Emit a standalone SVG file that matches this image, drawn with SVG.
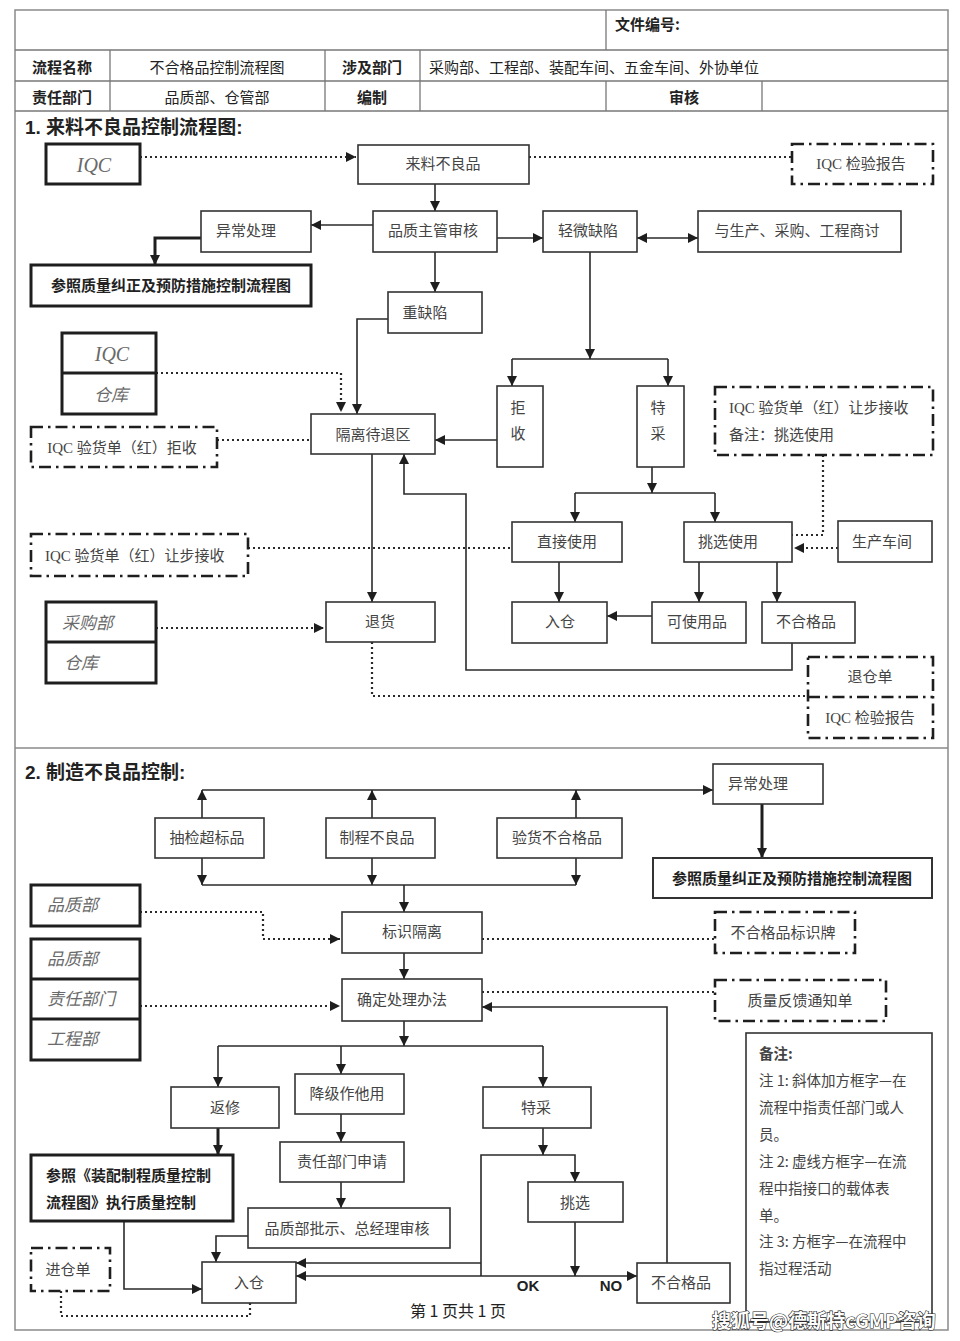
<svg xmlns="http://www.w3.org/2000/svg" width="960" height="1341" viewBox="0 0 960 1341">
<style>
.bg{fill:#fff}
.frame{fill:none;stroke:#8a8a8a;stroke-width:1.5}
.tl{stroke:#777;stroke-width:1.3}
.n rect{fill:#fff;stroke:#333;stroke-width:1.6}
.k rect,.k line{fill:#fff;stroke:#1e1e1e;stroke-width:3}
.m rect{fill:#fff;stroke:#333;stroke-width:2}
.d rect,.d line{fill:none;stroke:#1e1e1e;stroke-width:2.6;stroke-dasharray:12 5 2.5 5}
.t{font-family:"Liberation Serif","Noto Sans CJK SC",sans-serif;font-size:15px;fill:#444;text-anchor:middle;dominant-baseline:central}
.l{text-anchor:start}
.b{font-weight:bold;fill:#222}
.i{font-style:italic;fill:#6a6a6a;font-size:17px}
.iq{font-family:"Liberation Serif",serif;font-style:italic;fill:#6a6a6a;font-size:20px}
.h{font-family:"Noto Sans CJK SC",sans-serif;font-size:15px;fill:#222;dominant-baseline:central}
.ti{font-family:"Liberation Sans","Noto Sans CJK SC",sans-serif;font-size:19px;font-weight:bold;fill:#222}
.c{fill:none;stroke:#2a2a2a;stroke-width:1.6}
.cw{fill:none;stroke:#1e1e1e;stroke-width:3}
.dt{fill:none;stroke:#2a2a2a;stroke-width:2.2;stroke-dasharray:2 3}
.nt{font-family:"Noto Sans CJK SC",sans-serif;font-size:14.5px;fill:#444}
</style>
<defs>
<marker id="a" viewBox="0 0 10 10" refX="10" refY="5" markerWidth="11" markerHeight="10" markerUnits="userSpaceOnUse" orient="auto"><path d="M0,0L10,5L0,10z" fill="#1e1e1e"/></marker>
<marker id="as" viewBox="0 0 10 10" refX="10" refY="5" markerWidth="11" markerHeight="10" markerUnits="userSpaceOnUse" orient="auto-start-reverse"><path d="M0,0L10,5L0,10z" fill="#1e1e1e"/></marker>
</defs>
<rect class="bg" x="0" y="0" width="960" height="1341"/>

<g id="frame">
<rect class="frame" x="15" y="10" width="933" height="1320"/>
<line class="tl" x1="15" y1="50" x2="948" y2="50"/>
<line class="tl" x1="15" y1="81" x2="948" y2="81"/>
<line class="tl" x1="15" y1="111" x2="948" y2="111"/>
<line class="tl" x1="606" y1="10" x2="606" y2="50"/>
<line class="tl" x1="110" y1="50" x2="110" y2="111"/>
<line class="tl" x1="325" y1="50" x2="325" y2="111"/>
<line class="tl" x1="420" y1="50" x2="420" y2="111"/>
<line class="tl" x1="606" y1="81" x2="606" y2="111"/>
<line class="tl" x1="762" y1="81" x2="762" y2="111"/>
<line class="frame" x1="15" y1="748" x2="948" y2="748"/>
</g>

<g id="header-text">
<text class="h" x="615" y="23" font-weight="bold">文件编号:</text>
<text class="h" x="62" y="66" text-anchor="middle" font-weight="bold">流程名称</text>
<text class="h" x="217" y="66" text-anchor="middle" fill="#333">不合格品控制流程图</text>
<text class="h" x="372" y="66" text-anchor="middle" font-weight="bold">涉及部门</text>
<text class="h" x="429" y="66" fill="#333" font-size="15.5">采购部、工程部、装配车间、五金车间、外协单位</text>
<text class="h" x="62" y="96" text-anchor="middle" font-weight="bold">责任部门</text>
<text class="h" x="217" y="96" text-anchor="middle" fill="#333">品质部、仓管部</text>
<text class="h" x="372" y="96" text-anchor="middle" font-weight="bold">编制</text>
<text class="h" x="684" y="96" text-anchor="middle" font-weight="bold">审核</text>
<text class="ti" x="25" y="134">1. 来料不良品控制流程图:</text>
<text class="ti" x="25" y="779">2. 制造不良品控制:</text>
</g>

<g id="connectors">
<path class="dt" d="M140,157H356" marker-end="url(#a)"/>
<path class="dt" d="M529,157H792"/>
<path class="c" d="M435,184V211" marker-end="url(#a)"/>
<path class="c" d="M373,225H311" marker-end="url(#a)"/>
<path class="cw" d="M201,238H155V265" marker-end="url(#a)"/>
<path class="c" d="M435,252V292" marker-end="url(#a)"/>
<path class="c" d="M388,319H357V414" marker-end="url(#a)"/>
<path class="c" d="M497,238H543" marker-end="url(#a)"/>
<path class="c" d="M637,238H698" marker-start="url(#as)" marker-end="url(#a)"/>
<path class="c" d="M590,252V359" marker-end="url(#a)"/>
<path class="c" d="M512,359H668"/>
<path class="c" d="M512,359V386" marker-end="url(#a)"/>
<path class="c" d="M668,359V386" marker-end="url(#a)"/>
<path class="c" d="M497,440H435" marker-end="url(#a)"/>
<path class="dt" d="M156,373H341V412" marker-end="url(#a)"/>
<path class="dt" d="M217,440H311"/>
<path class="c" d="M652,467V493" marker-end="url(#a)"/>
<path class="c" d="M575,493H715"/>
<path class="c" d="M575,493V522" marker-end="url(#a)"/>
<path class="c" d="M715,493V522" marker-end="url(#a)"/>
<path class="dt" d="M823,455V535H792"/>
<path class="dt" d="M248,548H512"/>
<path class="dt" d="M838,548H794" marker-end="url(#a)"/>
<path class="c" d="M559,562V602" marker-end="url(#a)"/>
<path class="c" d="M699,562V602" marker-end="url(#a)"/>
<path class="c" d="M777,562V602" marker-end="url(#a)"/>
<path class="c" d="M652,616H607" marker-end="url(#a)"/>
<path class="c" d="M792,643V670H466V494H404V454" marker-end="url(#a)"/>
<path class="c" d="M372,454V602" marker-end="url(#a)"/>
<path class="dt" d="M156,628H324" marker-end="url(#a)"/>
<path class="dt" d="M372,642V696H808"/>

<path class="c" d="M202,790H713" marker-end="url(#a)"/>
<path class="c" d="M202,818V790" marker-end="url(#a)"/>
<path class="c" d="M372,818V790" marker-end="url(#a)"/>
<path class="c" d="M576,818V790" marker-end="url(#a)"/>
<path class="c" d="M202,858V885" marker-end="url(#a)"/>
<path class="c" d="M372,858V885" marker-end="url(#a)"/>
<path class="c" d="M576,858V885" marker-end="url(#a)"/>
<path class="c" d="M202,885H576"/>
<path class="c" d="M404,885V912" marker-end="url(#a)"/>
<path class="cw" d="M762,804V858" marker-end="url(#a)"/>
<path class="dt" d="M140,912H263V939H340" marker-end="url(#a)"/>
<path class="dt" d="M482,939H715"/>
<path class="c" d="M404,953V979" marker-end="url(#a)"/>
<path class="dt" d="M140,1006H340" marker-end="url(#a)"/>
<path class="dt" d="M482,992H715"/>
<path class="c" d="M404,1021V1046" marker-end="url(#a)"/>
<path class="c" d="M218,1046H543"/>
<path class="c" d="M218,1046V1087" marker-end="url(#a)"/>
<path class="c" d="M341,1046V1074" marker-end="url(#a)"/>
<path class="c" d="M543,1046V1087" marker-end="url(#a)"/>
<path class="cw" d="M218,1128V1155" marker-end="url(#a)"/>
<path class="c" d="M341,1114V1142" marker-end="url(#a)"/>
<path class="c" d="M341,1182V1208" marker-end="url(#a)"/>
<path class="c" d="M248,1236H216V1262" marker-end="url(#a)"/>
<path class="c" d="M124,1221V1289H202" marker-end="url(#a)"/>
<path class="dt" d="M61,1291V1316H250V1303"/>
<path class="c" d="M543,1128V1155" marker-end="url(#a)"/>
<path class="c" d="M481,1276V1155H575V1182" marker-end="url(#a)"/>
<path class="c" d="M481,1263H296" marker-end="url(#a)"/>
<path class="c" d="M296,1276H637" marker-start="url(#as)" marker-end="url(#a)"/>
<path class="c" d="M575,1222V1276" marker-end="url(#a)"/>
<path class="c" d="M667,1263V1007H482" marker-end="url(#a)"/>
</g>

<g id="n-iqc1" class="k"><rect x="46" y="144" width="94" height="40"/><text class="iq t" x="94" y="165">IQC</text></g>
<g id="n-lailiao" class="n"><rect x="358" y="145" width="171" height="39"/><text class="t" x="443" y="164">来料不良品</text></g>
<g id="n-iqcrep1" class="d"><rect x="792" y="144" width="141" height="40"/><text class="t" x="861" y="164">IQC 检验报告</text></g>
<g id="n-yichang1" class="n"><rect x="201" y="211" width="110" height="41"/><text class="t" x="246" y="231">异常处理</text></g>
<g id="n-pinzhi" class="n"><rect x="373" y="211" width="124" height="41"/><text class="t" x="433" y="231">品质主管审核</text></g>
<g id="n-qingwei" class="n"><rect x="543" y="211" width="94" height="41"/><text class="t" x="588" y="231">轻微缺陷</text></g>
<g id="n-shangtao" class="n"><rect x="698" y="211" width="203" height="41"/><text class="t" x="797" y="231">与生产、采购、工程商讨</text></g>
<g id="n-canzhao1" class="k"><rect x="31" y="265" width="280" height="41"/><text class="t b" x="171" y="286">参照质量纠正及预防措施控制流程图</text></g>
<g id="n-zhong" class="n"><rect x="388" y="292" width="94" height="41"/><text class="t" x="425" y="313">重缺陷</text></g>
<g id="n-iqc-cangku" class="k"><rect x="62" y="333" width="94" height="81"/><line x1="62" y1="373" x2="156" y2="373"/><text class="iq t" x="112" y="354">IQC</text><text class="i t" x="111" y="395">仓库</text></g>
<g id="n-jushou" class="n"><rect x="497" y="386" width="46" height="81"/><text class="t" x="518" y="408">拒</text><text class="t" x="518" y="434">收</text></g>
<g id="n-tecai1" class="n"><rect x="637" y="386" width="47" height="81"/><text class="t" x="658" y="408">特</text><text class="t" x="658" y="434">采</text></g>
<g id="n-rangbu1" class="d"><rect x="715" y="387" width="218" height="68"/><text class="t l" x="729" y="408">IQC 验货单（红）让步接收</text><text class="t l" x="729" y="435">备注：挑选使用</text></g>
<g id="n-jushoudan" class="d"><rect x="31" y="427" width="186" height="40"/><text class="t" x="122" y="448">IQC 验货单（红）拒收</text></g>
<g id="n-geli" class="n"><rect x="311" y="414" width="124" height="40"/><text class="t" x="373" y="435">隔离待退区</text></g>
<g id="n-rangbu2" class="d"><rect x="31" y="534" width="217" height="42"/><text class="t l" x="45" y="556">IQC 验货单（红）让步接收</text></g>
<g id="n-zhijie" class="n"><rect x="512" y="522" width="110" height="40"/><text class="t" x="567" y="542">直接使用</text></g>
<g id="n-tiaoxuan1" class="n"><rect x="684" y="522" width="108" height="40"/><text class="t" x="728" y="542">挑选使用</text></g>
<g id="n-shengchan" class="n"><rect x="838" y="521" width="94" height="41"/><text class="t" x="882" y="542">生产车间</text></g>
<g id="n-caigou-cangku" class="k"><rect x="46" y="602" width="110" height="81"/><line x1="46" y1="642" x2="156" y2="642"/><text class="i t l" x="62" y="623">采购部</text><text class="i t l" x="64" y="663">仓库</text></g>
<g id="n-tuihuo" class="n"><rect x="326" y="602" width="109" height="40"/><text class="t" x="380" y="622">退货</text></g>
<g id="n-rucang1" class="n"><rect x="512" y="602" width="95" height="41"/><text class="t" x="560" y="622">入仓</text></g>
<g id="n-keshiyong" class="n"><rect x="652" y="602" width="94" height="41"/><text class="t" x="697" y="622">可使用品</text></g>
<g id="n-buhege1" class="n"><rect x="762" y="602" width="93" height="41"/><text class="t" x="806" y="622">不合格品</text></g>
<g id="n-tuicang" class="d"><rect x="808" y="657" width="125" height="81"/><line x1="808" y1="697" x2="933" y2="697"/><text class="t" x="870" y="677">退仓单</text><text class="t" x="870" y="718">IQC 检验报告</text></g>

<g id="n-choujian" class="n"><rect x="155" y="818" width="109" height="40"/><text class="t" x="207" y="838">抽检超标品</text></g>
<g id="n-zhicheng" class="n"><rect x="326" y="818" width="109" height="40"/><text class="t" x="377" y="838">制程不良品</text></g>
<g id="n-yanhuo" class="n"><rect x="497" y="818" width="125" height="40"/><text class="t" x="557" y="838">验货不合格品</text></g>
<g id="n-yichang2" class="n"><rect x="713" y="764" width="110" height="40"/><text class="t" x="758" y="784">异常处理</text></g>
<g id="n-canzhao2" class="m"><rect x="653" y="858" width="279" height="40"/><text class="t b" x="792" y="879">参照质量纠正及预防措施控制流程图</text></g>
<g id="n-pinzhibu1" class="k"><rect x="31" y="885" width="109" height="41"/><text class="i t l" x="47" y="905">品质部</text></g>
<g id="n-biaoshi" class="n"><rect x="342" y="912" width="140" height="41"/><text class="t" x="412" y="932">标识隔离</text></g>
<g id="n-biaoshipai" class="d"><rect x="715" y="912" width="140" height="41"/><text class="t" x="783" y="933">不合格品标识牌</text></g>
<g id="n-depts" class="k"><rect x="31" y="939" width="109" height="121"/><line x1="31" y1="979" x2="140" y2="979"/><line x1="31" y1="1019" x2="140" y2="1019"/><text class="i t l" x="47" y="959">品质部</text><text class="i t l" x="47" y="999">责任部门</text><text class="i t l" x="47" y="1039">工程部</text></g>
<g id="n-queding" class="n"><rect x="342" y="979" width="140" height="42"/><text class="t" x="402" y="1000">确定处理办法</text></g>
<g id="n-fankui" class="d"><rect x="715" y="980" width="171" height="41"/><text class="t" x="800" y="1001">质量反馈通知单</text></g>
<g id="n-fanxiu" class="n"><rect x="171" y="1087" width="108" height="41"/><text class="t" x="225" y="1108">返修</text></g>
<g id="n-jiangji" class="n"><rect x="295" y="1074" width="109" height="40"/><text class="t" x="347" y="1094">降级作他用</text></g>
<g id="n-tecai2" class="n"><rect x="483" y="1087" width="108" height="41"/><text class="t" x="536" y="1108">特采</text></g>
<g id="n-zhuangpei" class="k"><rect x="31" y="1155" width="202" height="66"/><text class="t b l" x="46" y="1176">参照《装配制程质量控制</text><text class="t b l" x="46" y="1203">流程图》执行质量控制</text></g>
<g id="n-shenqing" class="n"><rect x="280" y="1142" width="124" height="40"/><text class="t" x="342" y="1162">责任部门申请</text></g>
<g id="n-pishi" class="n"><rect x="248" y="1208" width="202" height="40"/><text class="t" x="347" y="1229">品质部批示、总经理审核</text></g>
<g id="n-tiaoxuan2" class="n"><rect x="528" y="1182" width="95" height="40"/><text class="t" x="575" y="1203">挑选</text></g>
<g id="n-jincang" class="d"><rect x="31" y="1248" width="79" height="43"/><text class="t" x="68" y="1270">进仓单</text></g>
<g id="n-rucang2" class="n"><rect x="202" y="1262" width="94" height="41"/><text class="t" x="249" y="1283">入仓</text></g>
<g id="n-buhege2" class="n"><rect x="637" y="1263" width="93" height="40"/><text class="t" x="681" y="1283">不合格品</text></g>
<g id="labels">
<text x="528" y="1291" font-family="Liberation Sans,sans-serif" font-size="15" font-weight="bold" fill="#222" text-anchor="middle">OK</text>
<text x="611" y="1291" font-family="Liberation Sans,sans-serif" font-size="15" font-weight="bold" fill="#222" text-anchor="middle">NO</text>
<text x="458" y="1317" font-family="Noto Sans CJK SC,sans-serif" font-size="16" fill="#222" text-anchor="middle">第 1 页共 1 页</text>
</g>
<g id="n-notes" class="n"><rect x="746" y="1033" width="186" height="289"/>
<text class="nt" x="759" y="1059" font-weight="bold" fill="#222">备注:</text>
<text class="nt" x="759" y="1086">注 1: 斜体加方框字—在</text>
<text class="nt" x="759" y="1113">流程中指责任部门或人</text>
<text class="nt" x="759" y="1140">员。</text>
<text class="nt" x="759" y="1167">注 2: 虚线方框字—在流</text>
<text class="nt" x="759" y="1194">程中指接口的载体表</text>
<text class="nt" x="759" y="1221">单。</text>
<text class="nt" x="759" y="1247">注 3: 方框字—在流程中</text>
<text class="nt" x="759" y="1274">指过程活动</text>
</g>
<text x="712" y="1328" font-family="Noto Sans CJK SC,sans-serif" font-size="19" font-weight="bold" fill="#fff" stroke="#222" stroke-width="1.2" paint-order="stroke">搜狐号@德斯特cGMP咨询</text>
</svg>
